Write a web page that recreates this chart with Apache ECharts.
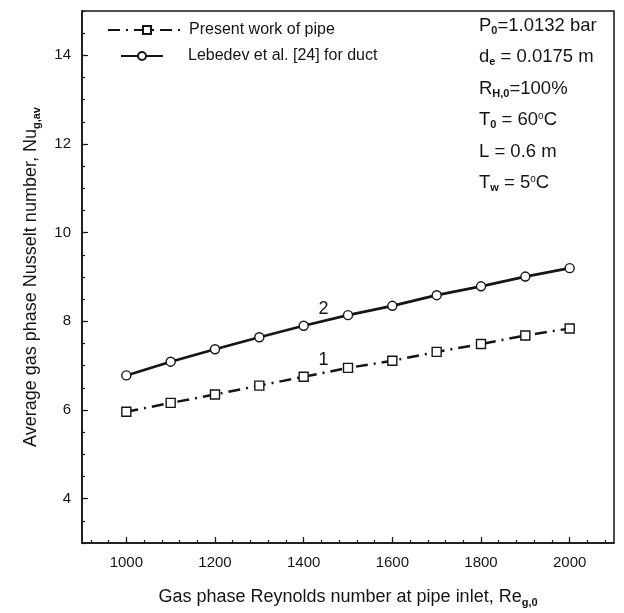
<!DOCTYPE html>
<html>
<head>
<meta charset="utf-8">
<script src="https://cdn.jsdelivr.net/npm/echarts@6/dist/echarts.min.js"></script>
<style>
html,body{margin:0;padding:0;background:#fff;}
#chart{width:624px;height:613px;}
</style>
</head>
<body>
<div id="chart"></div>
<script>
var reynolds = [1000, 1100, 1200, 1300, 1400, 1500, 1600, 1700, 1800, 1900, 2000];
var nuPresentPipe = [5.96, 6.16, 6.35, 6.55, 6.75, 6.95, 7.11, 7.31, 7.49, 7.68, 7.84];
var nuLebedevDuct = [6.78, 7.09, 7.37, 7.64, 7.90, 8.14, 8.35, 8.59, 8.79, 9.01, 9.20];
var seriesNames = ['Present work of pipe', 'Lebedev et al. [24] for duct'];
var xMajorTicks = [1000, 1200, 1400, 1600, 1800, 2000];
var xMinorTicks = [];
for (var v = 920; v <= 2080; v += 40) xMinorTicks.push(v);
var yMajorTicks = [4, 6, 8, 10, 12, 14];
var yMinorTicks = [];
for (var w = 3; w <= 15; w += 0.5) yMinorTicks.push(w);
var curveLabels = [{text: '1', x: 1445, y: 7.13}, {text: '2', x: 1445, y: 8.27}];

var FONT = '"Liberation Sans", Arial, sans-serif';
var INK = '#151515';

function pairs(xs, ys){ return xs.map(function(x,i){ return [x, ys[i]]; }); }
function plain(v){ return String(v); }

var chart = echarts.init(document.getElementById('chart'), null, {renderer:'canvas'});
var option = {
  backgroundColor: '#fff',
  animation: false,
  textStyle: {fontFamily: FONT, color: INK},
  grid: {left: 82, right: 10, top: 11, bottom: 70, show: true, borderColor: INK, borderWidth: 1.5, backgroundColor: 'transparent'},
  legend: [
    {
      data: [seriesNames[0]], left: 102, top: 17, itemWidth: 78, itemHeight: 10, itemGap: 4,
      textStyle: {fontFamily: FONT, fontSize: 16, color: INK, padding: [0,0,0,-2]}
    },
    {
      data: [seriesNames[1]], left: 115, top: 43, itemWidth: 42, itemHeight: 10,
      textStyle: {fontFamily: FONT, fontSize: 16, color: INK, padding: [0,0,0,20]}
    }
  ],
  xAxis: [
    {
      type: 'value', min: 900, max: 2100, position: 'bottom',
      axisLine: {show: true, lineStyle: {color: INK, width: 1.5}},
      axisTick: {show: true, inside: true, length: 6, customValues: xMajorTicks, lineStyle: {color: INK, width: 1.2}},
      axisLabel: {customValues: xMajorTicks, formatter: plain, fontSize: 15, color: INK, margin: 12, fontFamily: FONT},
      splitLine: {show: false},
      name: '{n|Gas phase Reynolds number at pipe inlet, Re}{sub|g,0}',
      nameLocation: 'middle', nameGap: 44,
      nameTextStyle: {rich: {
        n: {fontSize: 18, color: INK, fontFamily: FONT},
        sub: {fontSize: 11, color: INK, fontFamily: FONT, fontWeight: 'bold', padding: [10,0,0,0]}
      }}
    },
    {
      type: 'value', min: 900, max: 2100, position: 'bottom',
      axisLine: {show: false},
      axisTick: {show: true, inside: true, length: 3, customValues: xMinorTicks, lineStyle: {color: INK, width: 1.2}},
      axisLabel: {show: false},
      splitLine: {show: false}
    }
  ],
  yAxis: [
    {
      type: 'value', min: 3, max: 15, position: 'left',
      axisLine: {show: true, lineStyle: {color: INK, width: 1.5}},
      axisTick: {show: true, inside: true, length: 6, customValues: yMajorTicks, lineStyle: {color: INK, width: 1.2}},
      axisLabel: {customValues: yMajorTicks, formatter: plain, fontSize: 15, color: INK, margin: 11, fontFamily: FONT},
      splitLine: {show: false},
      name: '{n|Average gas phase Nusselt number, Nu}{sub|g,av}',
      nameLocation: 'middle', nameGap: 40, nameRotate: 90,
      nameTextStyle: {rich: {
        n: {fontSize: 18, color: INK, fontFamily: FONT},
        sub: {fontSize: 11, color: INK, fontFamily: FONT, fontWeight: 'bold', padding: [10,0,0,0]}
      }}
    },
    {
      type: 'value', min: 3, max: 15, position: 'left',
      axisLine: {show: false},
      axisTick: {show: true, inside: true, length: 3, customValues: yMinorTicks, lineStyle: {color: INK, width: 1.2}},
      axisLabel: {show: false},
      splitLine: {show: false}
    }
  ],
  series: [
    {
      name: seriesNames[0], type: 'line', xAxisIndex: 0, yAxisIndex: 0,
      data: pairs(reynolds, nuPresentPipe),
      symbol: 'rect', symbolSize: 9, showAllSymbol: true,
      itemStyle: {color: '#fff', borderColor: INK, borderWidth: 1.4},
      lineStyle: {color: INK, width: 2.5, type: [12, 6, 2, 6]},
      z: 3,
      markPoint: {
        symbol: 'circle', symbolSize: 0,
        label: {show: true, fontSize: 18, color: INK, fontFamily: FONT, formatter: function(p){ return p.name; }},
        data: [{name: curveLabels[0].text, coord: [curveLabels[0].x, curveLabels[0].y]}]
      }
    },
    {
      name: seriesNames[1], type: 'line', xAxisIndex: 0, yAxisIndex: 0,
      data: pairs(reynolds, nuLebedevDuct),
      symbol: 'circle', symbolSize: 9, showAllSymbol: true,
      itemStyle: {color: '#fff', borderColor: INK, borderWidth: 1.4},
      lineStyle: {color: INK, width: 2.7, type: 'solid'},
      z: 3,
      markPoint: {
        symbol: 'circle', symbolSize: 0,
        label: {show: true, fontSize: 18, color: INK, fontFamily: FONT, formatter: function(p){ return p.name; }},
        data: [{name: curveLabels[1].text, coord: [curveLabels[1].x, curveLabels[1].y]}]
      }
    }
  ],
  graphic: [
    {
      type: 'text', left: 479, top: 10,
      style: {
        text: [
          '{m|P}{s|0}{m|=1.0132 bar}',
          '{m|d}{s|e}{m| = 0.0175 m}',
          '{m|R}{s|H,0}{m|=100%}',
          '{m|T}{s|0}{m| = 60}{p|o}{m|C}',
          '{m|L = 0.6 m}',
          '{m|T}{s|w}{m| = 5}{p|o}{m|C}'
        ].join('\n'),
        lineHeight: 31.5,
        rich: {
          m: {fontSize: 18.5, fill: INK, fontFamily: FONT, lineHeight: 31.5},
          s: {fontSize: 11, fill: INK, fontFamily: FONT, fontWeight: 'bold', padding: [10,0,0,0], lineHeight: 31.5},
          p: {fontSize: 10, fill: INK, fontFamily: FONT, padding: [0,0,9,0], lineHeight: 31.5}
        }
      }
    }
  ]
};
chart.setOption(option);
</script>
</body>
</html>
